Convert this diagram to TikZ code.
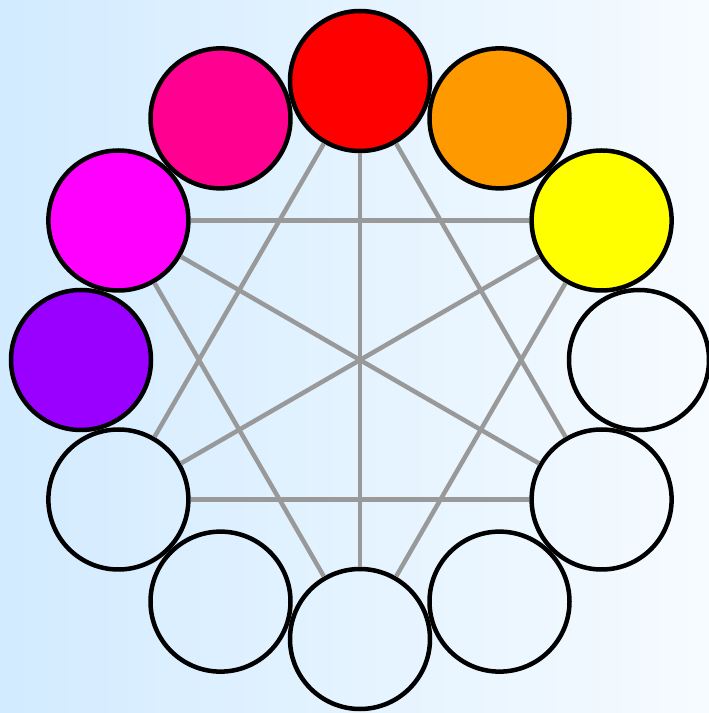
\documentclass[tikz,border=0pt]{standalone}
\usetikzlibrary{calc}
\definecolor{bgl}{RGB}{210,235,255}
\definecolor{bgr}{RGB}{246,251,255}
\definecolor{spokegray}{RGB}{153,153,153}
\definecolor{cred}{RGB}{255,0,0}
\definecolor{corange}{RGB}{255,153,0}
\definecolor{cyellow}{RGB}{255,255,0}
\definecolor{cpurple}{RGB}{153,0,255}
\definecolor{cmagenta}{RGB}{255,0,255}
\definecolor{cpink}{RGB}{255,0,144}
\begin{document}
\begin{tikzpicture}[x=1pt,y=1pt,
  wheel/.style={circle, draw=black, line width=4.5pt, minimum size=140pt, inner sep=0pt, outer sep=2.25pt},
  spoke/.style={draw=spokegray, line width=4.5pt}]
\shade[left color=bgl, right color=bgr] (0,0) rectangle (709,713);
\useasboundingbox (0,0) rectangle (709,713);
\coordinate (ctr) at (360,353);
\foreach \k/\col in {0/cred,1/corange,2/cyellow,3/none,4/none,5/none,6/none,7/none,8/none,9/cpurple,10/cmagenta,11/cpink}{
  \node[wheel, fill=\col] (c\k) at ($(ctr)+({90-30*\k}:279)$) {};
}
% diameters
\draw[spoke] (c0) -- (c6);
\draw[spoke] (c2) -- (c8);
\draw[spoke] (c4) -- (c10);
% triangle 0-4-8
\draw[spoke] (c0) -- (c4);
\draw[spoke] (c4) -- (c8);
\draw[spoke] (c8) -- (c0);
% triangle 2-6-10
\draw[spoke] (c2) -- (c6);
\draw[spoke] (c6) -- (c10);
\draw[spoke] (c10) -- (c2);
\end{tikzpicture}
\end{document}
